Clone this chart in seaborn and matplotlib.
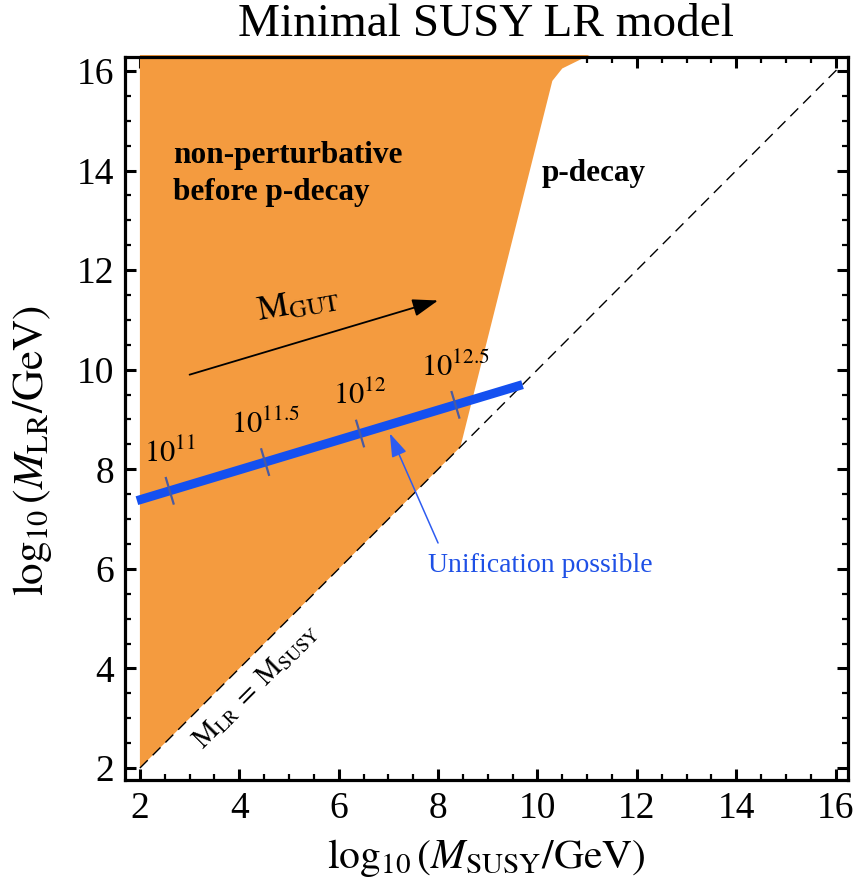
import numpy as np
import pandas as pd
import matplotlib
matplotlib.use("Agg")
import matplotlib.pyplot as plt
from matplotlib.ticker import MultipleLocator
import seaborn as sns

# ---- data ----------------------------------------------------------------
# region where couplings become non-perturbative before proton decay sets in
region_x = [2.0, 2.0, 11.05, 10.50, 10.30, 8.45]
region_y = [2.0, 16.32, 16.32, 16.05, 15.80, 8.45]

# M_LR = M_SUSY reference line
diag_x = [2.0, 16.1]
diag_y = [2.0, 16.1]

# gauge-unification band (log10 M_LR vs log10 M_SUSY)
gut_x = [1.94, 9.70]
gut_y = [7.37, 9.70]

# marks along the band for the unification scale M_GUT
gut_tick_x = [2.60, 4.52, 6.43, 8.35]
gut_tick_labels = ["11", "11.5", "12", "12.5"]

axis_ticks = [2, 4, 6, 8, 10, 12, 14, 16]

# ---- style ---------------------------------------------------------------
sns.set_theme(style="ticks")
plt.rcParams["font.family"] = ["Liberation Serif", "DejaVu Serif"]
plt.rcParams["mathtext.fontset"] = "stix"
plt.rcParams["text.color"] = "black"
plt.rcParams["axes.labelcolor"] = "black"
plt.rcParams["xtick.color"] = "black"
plt.rcParams["ytick.color"] = "black"

ORANGE = "#F49B3F"
BLUE = "#1450F0"

fig = plt.figure(figsize=(8.57, 8.89), dpi=100)
ax = fig.add_axes([125 / 857, 1 - 780 / 889, 723 / 857, 723 / 889])

ax.fill(region_x, region_y, color=ORANGE, lw=0, zorder=1, clip_on=False)

diag = pd.DataFrame({"x": diag_x, "y": diag_y})
sns.lineplot(data=diag, x="x", y="y", ax=ax, color="black", lw=1.0,
             linestyle=(0, (8, 5)), zorder=3)

gut = pd.DataFrame({"x": gut_x, "y": gut_y})
sns.lineplot(data=gut, x="x", y="y", ax=ax, color=BLUE, lw=6.5,
             solid_capstyle="butt", zorder=4)

# short perpendicular marks on the band with their M_GUT labels
slope = (gut_y[1] - gut_y[0]) / (gut_x[1] - gut_x[0])
norm = np.hypot(1.0, slope)
px, py = -slope / norm, 1.0 / norm
half = 0.29
for tx, lab in zip(gut_tick_x, gut_tick_labels):
    ty = gut_y[0] + slope * (tx - gut_x[0])
    ax.plot([tx + px * half, tx - px * half], [ty + py * half, ty - py * half],
            color="#4A5AA0", lw=1.6, zorder=5, solid_capstyle="butt")
    ax.annotate(r"$10^{%s}$" % lab, xy=(tx, ty), xytext=(0, 16),
                textcoords="offset points", ha="center", va="bottom",
                fontsize=22, zorder=6)

# M_GUT direction arrow
ax.annotate("", xy=(8.0, 11.39), xytext=(3.0, 9.9),
            arrowprops=dict(arrowstyle="-|>,head_length=1.3,head_width=0.45",
                            color="black", lw=1.3, shrinkA=0, shrinkB=0),
            zorder=6)
ax.text(5.18, 11.30, r"$\mathrm{M}_{\mathrm{GUT}}$", fontsize=25,
        rotation=10, ha="center", va="center", zorder=6)

# pointer to the unification band
ax.annotate("", xy=(7.03, 8.72), xytext=(8.0, 6.52),
            arrowprops=dict(arrowstyle="-|>,head_length=1.2,head_width=0.4",
                            color="#2E5CF0", lw=1.1, shrinkA=0, shrinkB=0),
            zorder=6)
ax.text(10.05, 6.06, "Unification possible", color="#1E50E6", fontsize=20,
        ha="center", va="center", zorder=6)

ax.text(2.66, 14.31, "non-perturbative", fontsize=22.5, fontweight="bold",
        ha="left", va="center", zorder=6)
ax.text(2.66, 13.55, "before p-decay", fontsize=22.5, fontweight="bold",
        ha="left", va="center", zorder=6)
ax.text(10.09, 13.95, "p-decay", fontsize=22.5, fontweight="bold",
        ha="left", va="center", zorder=6)

ax.text(4.35, 3.65,
        r"$\mathrm{M}_{\mathrm{LR}}\;=\;\mathrm{M}_{\mathrm{SUSY}}$",
        fontsize=20, rotation=45, ha="center", va="center",
        rotation_mode="anchor", zorder=6)

# ---- axes ----------------------------------------------------------------
ax.set_xlim(1.70, 16.25)
ax.set_ylim(1.76, 16.28)
ax.set_xticks(axis_ticks)
ax.set_yticks(axis_ticks)
ax.xaxis.set_minor_locator(MultipleLocator(0.5))
ax.yaxis.set_minor_locator(MultipleLocator(0.5))
ax.tick_params(which="both", direction="in", top=True, right=True,
               color="black")
ax.tick_params(which="major", length=8, width=2.2, labelsize=27, pad=8)
ax.tick_params(which="minor", length=4.5, width=1.6)
for s in ax.spines.values():
    s.set_linewidth(2.3)
    s.set_color("black")
ax.grid(False)

ax.set_xlabel(r"$\log_{10}(M_{\mathrm{SUSY}}/\mathrm{GeV})$", fontsize=30,
              labelpad=8)
ax.set_ylabel(r"$\log_{10}(M_{\mathrm{LR}}/\mathrm{GeV})$", fontsize=31)
ax.yaxis.set_label_coords(-0.098, 0.455)
ax.set_title("Minimal SUSY LR model", fontsize=34, pad=15)

fig.savefig("out.png", dpi=100)
